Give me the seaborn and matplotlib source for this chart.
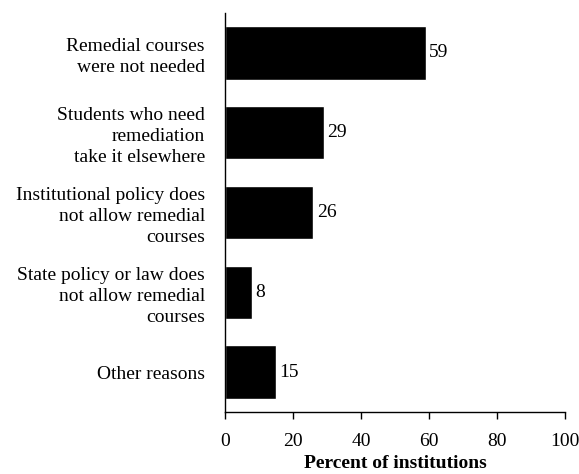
import seaborn as sns
import pandas as pd
import matplotlib.pyplot as plt

# Reasons and percentages
reasons = [
    "Remedial courses\nwere not needed",
    "Students who need\nremediation\ntake it elsewhere",
    "Institutional policy does\nnot allow remedial\ncourses",
    "State policy or law does\nnot allow remedial\ncourses",
    "Other reasons",
]
percents = [59, 29, 26, 8, 15]
xticks = [0, 20, 40, 60, 80, 100]

df = pd.DataFrame({"reason": reasons, "percent": percents})

sns.set_style("white")
plt.rcParams["font.family"] = ["Liberation Serif", "DejaVu Serif"]
plt.rcParams["text.color"] = "black"
plt.rcParams["xtick.color"] = "black"
plt.rcParams["ytick.color"] = "black"
plt.rcParams["axes.labelcolor"] = "black"

fig = plt.figure(figsize=(5.79, 4.74), dpi=100)
ax = fig.add_axes([0.3886, 0.1308, 0.5872, 0.8418])

sns.barplot(data=df, x="percent", y="reason", orient="h", color="black",
            width=0.67, saturation=1, ax=ax)

# value labels next to bars
for i, v in enumerate(percents):
    ax.text(v + 1.0, i, str(v), va="center", ha="left", fontsize=14, color="black")

ax.set_xlim(0, 100)
ax.set_ylim(4.5, -0.5)
ax.set_xticks(xticks)
ax.set_xticklabels([str(t) for t in xticks], fontsize=14)
ax.set_yticks(range(len(reasons)))
ax.set_yticklabels(reasons, fontsize=14, ha="right", multialignment="right",
                   linespacing=1.3)
ax.set_ylabel("")
ax.set_xlabel("Percent of institutions", fontsize=14, fontweight="bold", labelpad=4)

for side in ["top", "right"]:
    ax.spines[side].set_visible(False)
for side in ["left", "bottom"]:
    ax.spines[side].set_color("black")
    ax.spines[side].set_linewidth(1)

ax.tick_params(axis="x", bottom=True, direction="out", length=5, width=1, color="black", pad=10)
ax.tick_params(axis="y", left=False, pad=11)

fig.savefig("out.png", dpi=100)
